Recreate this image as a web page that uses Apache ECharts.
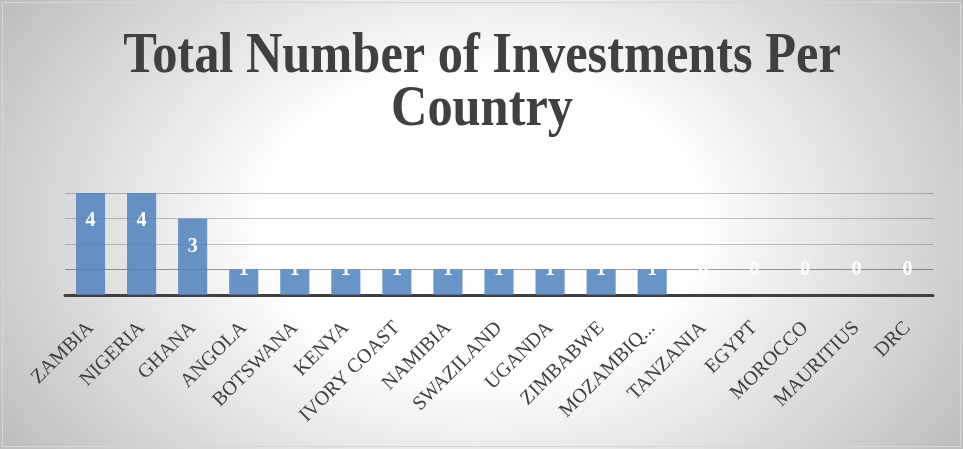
<!DOCTYPE html>
<html>
<head>
<meta charset="utf-8">
<script src="https://cdn.jsdelivr.net/npm/echarts@6/dist/echarts.min.js"></script>
<style>
  html, body { margin: 0; padding: 0; width: 963px; height: 449px; overflow: hidden; }
  #chart {
    position: absolute; left: 0; top: 0; width: 963px; height: 449px;
    background: radial-gradient(ellipse 560px 400px at 50% 50%, #ffffff 38%, #bfbfbf 100%);
  }
  #frame {
    position: absolute; left: 2px; top: 2px; width: 957px; height: 443px;
    border: 1px solid #d6d6d6; pointer-events: none;
  }
</style>
</head>
<body>
<div id="chart"></div>
<div id="frame"></div>
<script>
const titleLine1 = 'Total Number of Investments Per';
const titleLine2 = 'Country';
const categories = ['ZAMBIA', 'NIGERIA', 'GHANA', 'ANGOLA', 'BOTSWANA', 'KENYA', 'IVORY COAST', 'NAMIBIA', 'SWAZILAND', 'UGANDA', 'ZIMBABWE', 'MOZAMBIQUE', 'TANZANIA', 'EGYPT', 'MOROCCO', 'MAURITIUS', 'DRC'];
const values = [4, 4, 3, 1, 1, 1, 1, 1, 1, 1, 1, 1, 0, 0, 0, 0, 0];
const yTicks = [0, 1, 2, 3, 4];

const chart = echarts.init(document.getElementById('chart'), null, { renderer: 'canvas' });
const serif = '"Liberation Serif", "DejaVu Serif", serif';

const option = {
  backgroundColor: 'transparent',
  animation: false,
  graphic: [
    {
      type: 'text', x: 482, y: 58, scaleX: 0.9,
      style: { text: titleLine1, fill: '#404040', font: 'bold 56px ' + serif, align: 'center', verticalAlign: 'middle' }
    },
    {
      type: 'text', x: 482, y: 111, scaleX: 0.9,
      style: { text: titleLine2, fill: '#404040', font: 'bold 56px ' + serif, align: 'center', verticalAlign: 'middle' }
    }
  ],
  grid: { left: 65, right: 30, top: 193, bottom: 154, containLabel: false },
  xAxis: {
    type: 'category',
    data: categories,
    axisLine: { show: true, lineStyle: { color: '#404040', width: 3 } },
    axisTick: { show: false },
    axisLabel: {
      interval: 0, rotate: 45, margin: 30,
      fontFamily: serif, fontSize: 20, color: '#404040',
      width: 136, overflow: 'truncate', ellipsis: '...'
    }
  },
  yAxis: {
    type: 'value',
    min: yTicks[0], max: yTicks[yTicks.length - 1], interval: 1,
    axisLabel: { show: false },
    axisLine: { show: false },
    axisTick: { show: false },
    splitLine: { show: true, lineStyle: { color: ['rgba(0,0,0,0)', 'rgba(0,0,0,0.38)', 'rgba(0,0,0,0.22)', 'rgba(0,0,0,0.22)', 'rgba(0,0,0,0.22)'], width: 1 } }
  },
  series: [{
    type: 'bar',
    data: values,
    barCategoryGap: '43%',
    itemStyle: { color: 'rgba(79,129,189,0.85)', borderWidth: 0 },
    label: {
      show: true, color: '#ffffff', fontFamily: serif, fontWeight: 'bold', fontSize: 20,
      position: 'insideTop', align: 'center', verticalAlign: 'middle'
    }
  }]
};
chart.setOption(option);

const oneY = chart.convertToPixel({ yAxisIndex: 0 }, 1);
const labelled = values.map(v => {
  const top = chart.convertToPixel({ yAxisIndex: 0 }, v);
  const centerY = Math.min(top + 28, oneY);
  return { value: v, label: { position: ['50%', centerY - top] } };
});
chart.setOption({ series: [{ data: labelled }] });
</script>
</body>
</html>
